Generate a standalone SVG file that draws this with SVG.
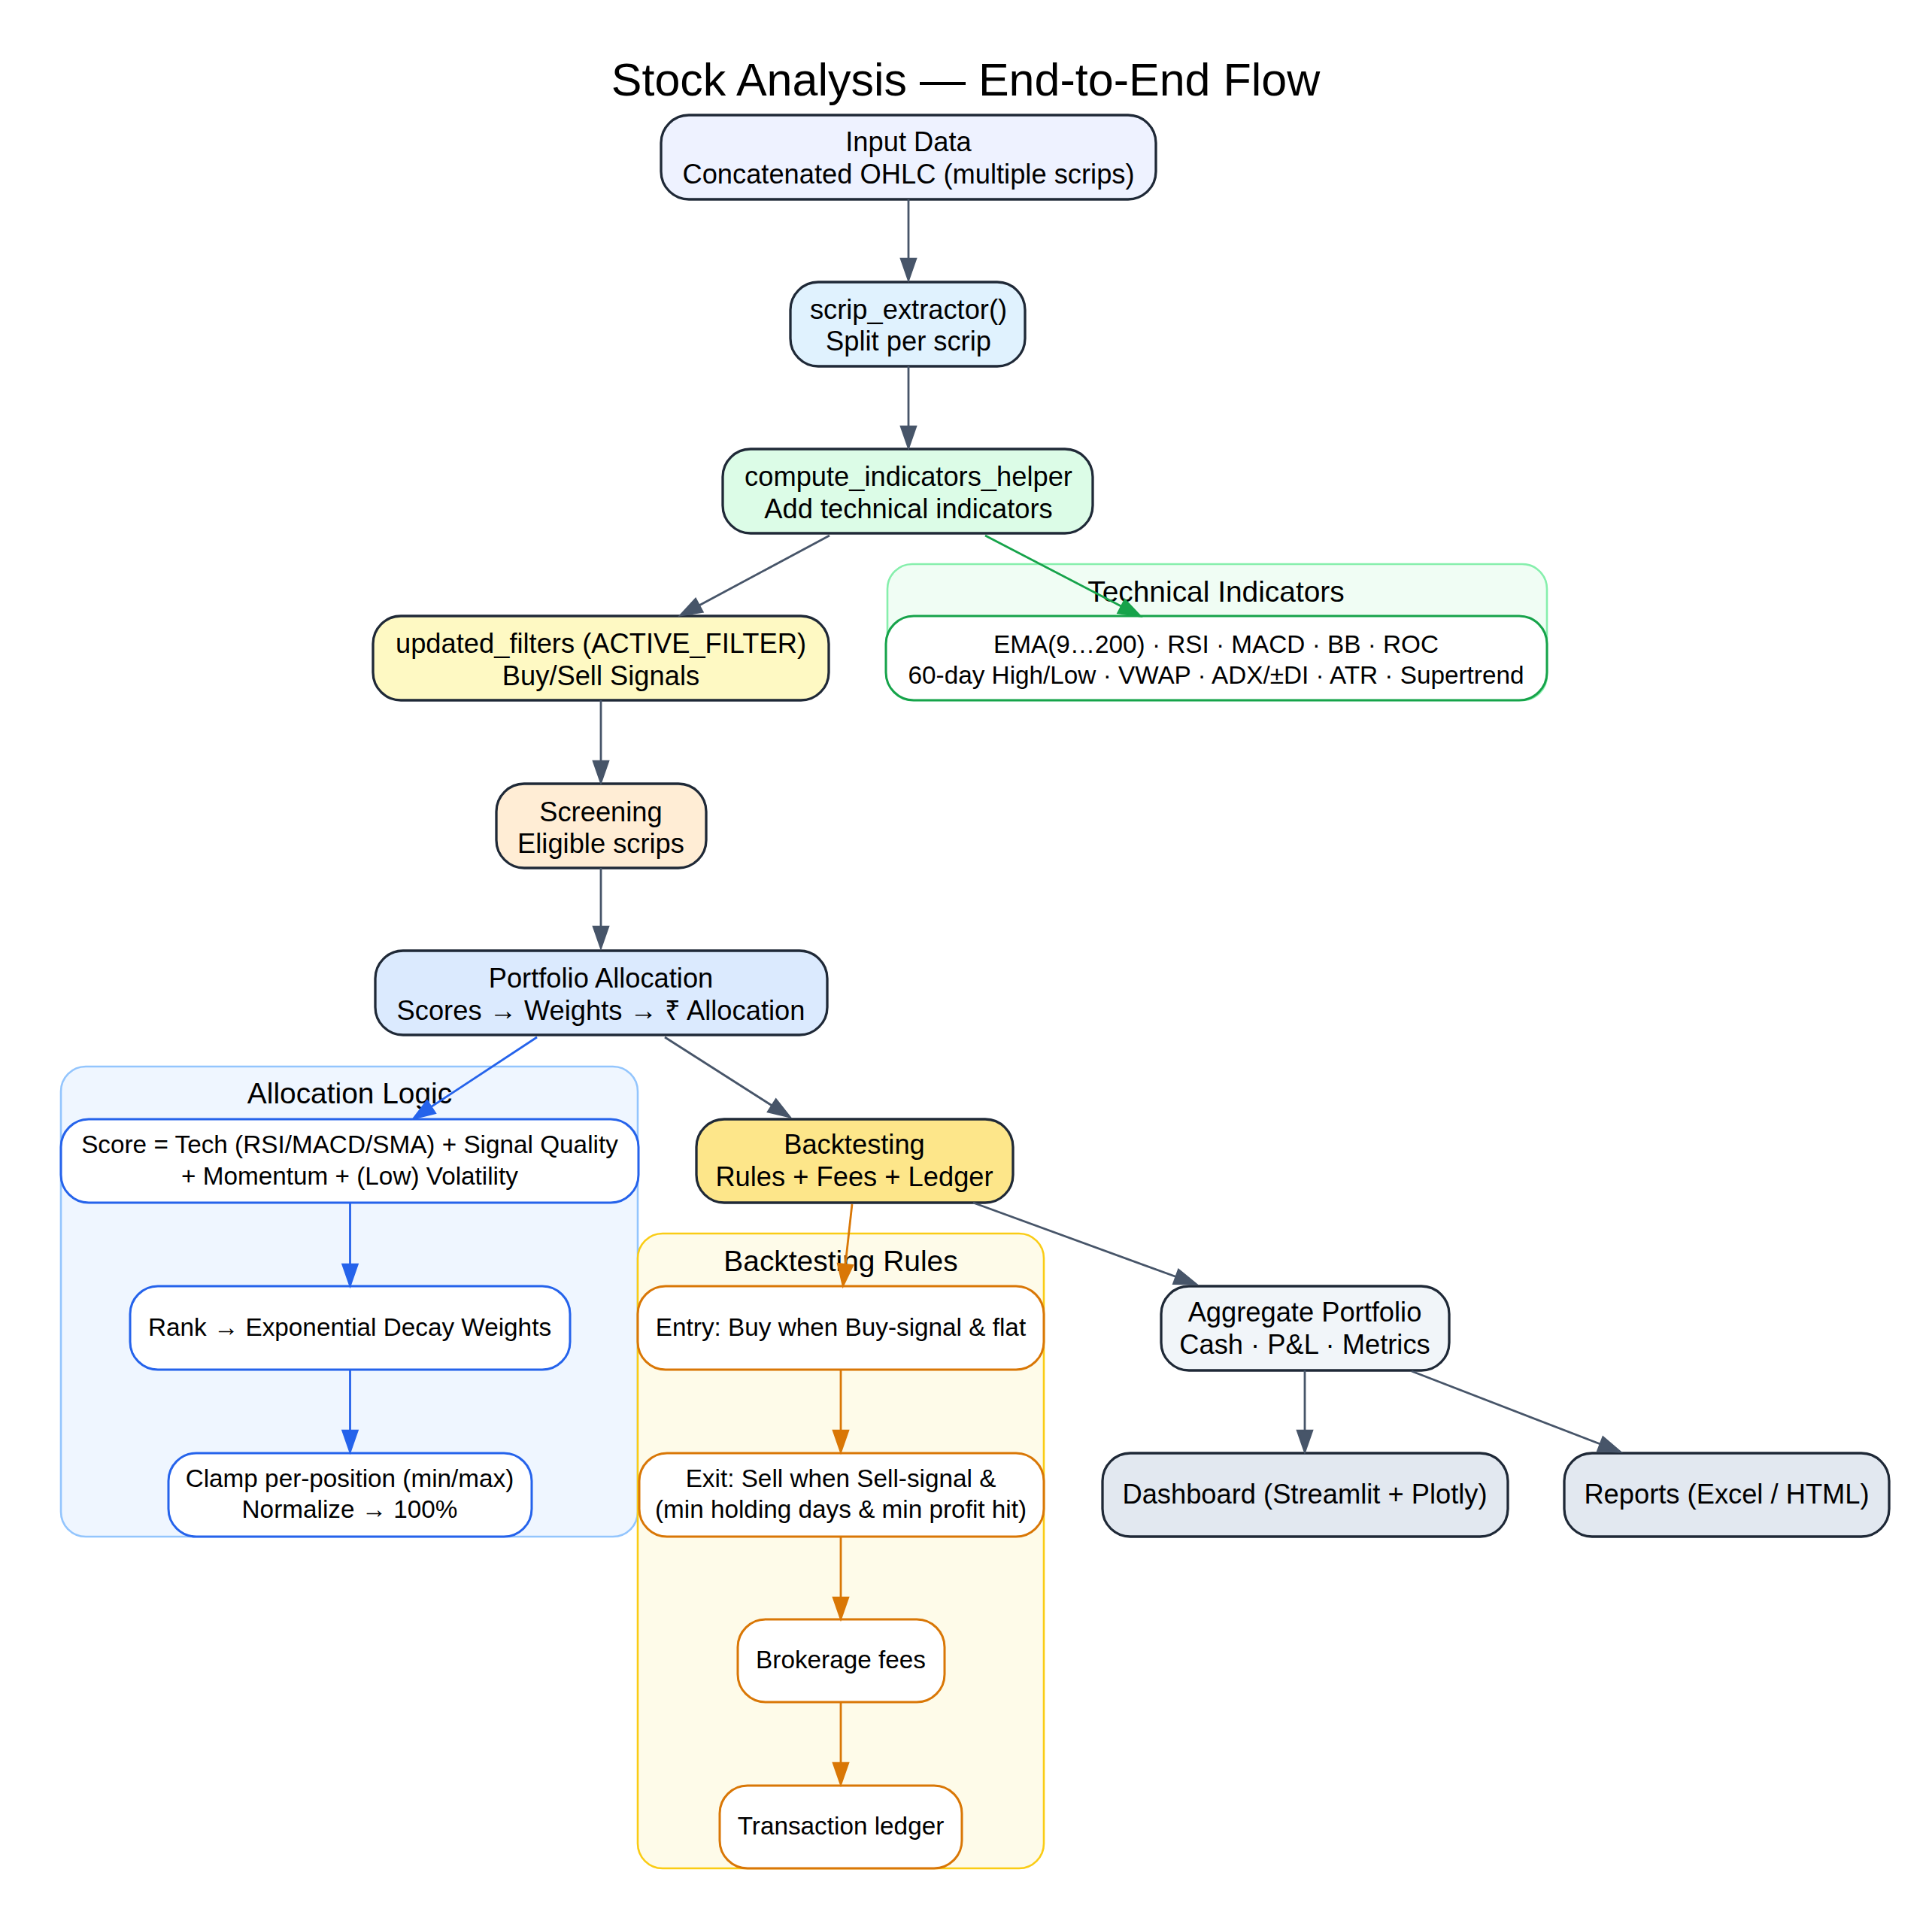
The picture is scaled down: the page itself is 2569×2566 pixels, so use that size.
<svg xmlns="http://www.w3.org/2000/svg" width="2569" height="2566" viewBox="0 0 2569 2566">
<style>
text{font-family:"Liberation Sans",Arial,sans-serif;fill:#000;text-anchor:middle}
.t{font-size:61px}
.n{font-size:36.3px}
.s{font-size:33.3px}
.cl{font-size:38.9px}
.main{stroke:#1f2937;stroke-width:3.3}
.e{fill:none;stroke-width:2.8}
.eg{stroke:#475569}.ah-g{fill:#475569;stroke:#475569}
.eb{stroke:#2563eb}.ah-b{fill:#2563eb;stroke:#2563eb}
.egr{stroke:#16a34a}.ah-gr{fill:#16a34a;stroke:#16a34a}
.eo{stroke:#d97706}.ah-o{fill:#d97706;stroke:#d97706}
polygon{stroke-width:2.8;stroke-linejoin:miter}
</style>
<rect width="2569" height="2566" fill="#ffffff"/>
<text class="t" x="1284" y="127">Stock Analysis — End-to-End Flow</text>

<g id="cluster_tech">
<rect x="1180" y="750" width="877" height="181" rx="33" fill="#f0fdf4" stroke="#86efac" stroke-width="2.6"/>
<text class="cl" x="1617" y="800">Technical Indicators</text>
</g>
<g id="cluster_alloc">
<rect x="81" y="1418" width="767" height="625" rx="33" fill="#eff6ff" stroke="#93c5fd" stroke-width="2.6"/>
<text class="cl" x="465" y="1467">Allocation Logic</text>
</g>
<g id="cluster_bt">
<rect x="848" y="1640" width="540" height="844" rx="33" fill="#fefbe9" stroke="#facc15" stroke-width="2.6"/>
<text class="cl" x="1118" y="1690">Backtesting Rules</text>
</g>

<g id="input">
<rect class="main" x="879" y="153" width="658" height="112" rx="37" fill="#eef2ff"/>
<text class="n" x="1208" y="201">Input Data</text>
<text class="n" x="1208" y="244">Concatenated OHLC (multiple scrips)</text>
</g>
<g id="scrip_extractor">
<rect class="main" x="1051" y="375" width="312" height="112" rx="37" fill="#e0f2fe"/>
<text class="n" x="1208" y="424">scrip_extractor()</text>
<text class="n" x="1208" y="466">Split per scrip</text>
</g>
<g id="compute">
<rect class="main" x="961" y="597" width="492" height="112" rx="37" fill="#dcfce7"/>
<text class="n" x="1208" y="646">compute_indicators_helper</text>
<text class="n" x="1208" y="689">Add technical indicators</text>
</g>
<g id="updated_filters">
<rect class="main" x="496" y="819" width="606" height="112" rx="37" fill="#fef9c3"/>
<text class="n" x="799" y="868">updated_filters (ACTIVE_FILTER)</text>
<text class="n" x="799" y="911">Buy/Sell Signals</text>
</g>
<g id="screening">
<rect class="main" x="660" y="1042" width="279" height="112" rx="37" fill="#ffedd5"/>
<text class="n" x="799" y="1092">Screening</text>
<text class="n" x="799" y="1134">Eligible scrips</text>
</g>
<g id="portfolio">
<rect class="main" x="499" y="1264" width="601" height="112" rx="37" fill="#dbeafe"/>
<text class="n" x="799" y="1313">Portfolio Allocation</text>
<text class="n" x="799" y="1356">Scores → Weights → ₹ Allocation</text>
</g>
<g id="tech_node">
<rect x="1178" y="819" width="879" height="112" rx="37" fill="#ffffff" stroke="#16a34a" stroke-width="3"/>
<text class="s" x="1617" y="868">EMA(9…200) · RSI · MACD · BB · ROC</text>
<text class="s" x="1617" y="909">60-day High/Low · VWAP · ADX/±DI · ATR · Supertrend</text>
</g>
<g id="score">
<rect x="81" y="1488" width="768" height="111" rx="37" fill="#ffffff" stroke="#2563eb" stroke-width="3"/>
<text class="s" x="465" y="1533">Score = Tech (RSI/MACD/SMA) + Signal Quality</text>
<text class="s" x="465" y="1575">+ Momentum + (Low) Volatility</text>
</g>
<g id="rank">
<rect x="173" y="1710" width="585" height="111" rx="37" fill="#ffffff" stroke="#2563eb" stroke-width="3"/>
<text class="s" x="465" y="1776">Rank → Exponential Decay Weights</text>
</g>
<g id="clamp">
<rect x="224" y="1932" width="483" height="111" rx="37" fill="#ffffff" stroke="#2563eb" stroke-width="3"/>
<text class="s" x="465" y="1977">Clamp per-position (min/max)</text>
<text class="s" x="465" y="2018">Normalize → 100%</text>
</g>
<g id="backtesting">
<rect class="main" x="926" y="1488" width="421" height="111" rx="37" fill="#fde68a"/>
<text class="n" x="1136" y="1534">Backtesting</text>
<text class="n" x="1136" y="1577">Rules + Fees + Ledger</text>
</g>
<g id="entry">
<rect x="848" y="1710" width="540" height="111" rx="37" fill="#ffffff" stroke="#d97706" stroke-width="3"/>
<text class="s" x="1118" y="1776">Entry: Buy when Buy-signal &amp; flat</text>
</g>
<g id="exit">
<rect x="850" y="1932" width="538" height="111" rx="37" fill="#ffffff" stroke="#d97706" stroke-width="3"/>
<text class="s" x="1118" y="1977">Exit: Sell when Sell-signal &amp;</text>
<text class="s" x="1118" y="2018">(min holding days &amp; min profit hit)</text>
</g>
<g id="brokerage">
<rect x="981" y="2153" width="275" height="110" rx="37" fill="#ffffff" stroke="#d97706" stroke-width="3"/>
<text class="s" x="1118" y="2218">Brokerage fees</text>
</g>
<g id="ledger">
<rect x="957" y="2374" width="322" height="110" rx="37" fill="#ffffff" stroke="#d97706" stroke-width="3"/>
<text class="s" x="1118" y="2439">Transaction ledger</text>
</g>
<g id="aggregate">
<rect class="main" x="1544" y="1710" width="383" height="112" rx="37" fill="#f1f5f9"/>
<text class="n" x="1735" y="1757">Aggregate Portfolio</text>
<text class="n" x="1735" y="1800">Cash · P&amp;L · Metrics</text>
</g>
<g id="dashboard">
<rect class="main" x="1466" y="1932" width="539" height="111" rx="37" fill="#e2e8f0"/>
<text class="n" x="1735" y="1999">Dashboard (Streamlit + Plotly)</text>
</g>
<g id="reports">
<rect class="main" x="2080" y="1932" width="432" height="111" rx="37" fill="#e2e8f0"/>
<text class="n" x="2296" y="1999">Reports (Excel / HTML)</text>
</g>

<g id="connectors">
<line class="e eg" x1="1208" y1="265" x2="1208" y2="344"/>
<polygon class="ah-g" points="1208,372 1198.3,344.2 1217.7,344.2"/>
<line class="e eg" x1="1208" y1="487" x2="1208" y2="567"/>
<polygon class="ah-g" points="1208,595 1198.3,567.2 1217.7,567.2"/>
<line class="e eg" x1="1103" y1="712" x2="929.5" y2="804.9"/>
<polygon class="ah-g" points="905,818 924.9,796.3 934.1,813.4"/>
<line class="e egr" x1="1310" y1="712" x2="1491.3" y2="806.2"/>
<polygon class="ah-gr" points="1516,819 1486.8,814.8 1495.8,797.6"/>
<line class="e eg" x1="799" y1="931" x2="799" y2="1012"/>
<polygon class="ah-g" points="799,1040 789.3,1012.2 808.7,1012.2"/>
<line class="e eg" x1="799" y1="1154" x2="799" y2="1232"/>
<polygon class="ah-g" points="799,1260 789.3,1232.2 808.7,1232.2"/>
<line class="e eb" x1="714" y1="1379" x2="573.2" y2="1471.7"/>
<polygon class="ah-b" points="550,1487 567.9,1463.6 578.5,1479.8"/>
<line class="e eg" x1="884" y1="1379" x2="1026.6" y2="1470"/>
<polygon class="ah-g" points="1050,1485 1021.4,1478.2 1031.8,1461.9"/>
<line class="e eb" x1="465.5" y1="1599" x2="465.5" y2="1681"/>
<polygon class="ah-b" points="465.5,1709 455.8,1681.2 475.2,1681.2"/>
<line class="e eb" x1="465.5" y1="1821" x2="465.5" y2="1902"/>
<polygon class="ah-b" points="465.5,1930 455.8,1902.2 475.2,1902.2"/>
<line class="e eo" x1="1133" y1="1601" x2="1124.1" y2="1681.4"/>
<polygon class="ah-o" points="1121,1709 1114.4,1680.3 1133.7,1682.4"/>
<line class="e eo" x1="1118" y1="1821" x2="1118" y2="1902"/>
<polygon class="ah-o" points="1118,1930 1108.3,1902.2 1127.7,1902.2"/>
<line class="e eo" x1="1118" y1="2043" x2="1118" y2="2124"/>
<polygon class="ah-o" points="1118,2152 1108.3,2124.2 1127.7,2124.2"/>
<line class="e eo" x1="1118" y1="2263" x2="1118" y2="2344"/>
<polygon class="ah-o" points="1118,2372 1108.3,2344.2 1127.7,2344.2"/>
<line class="e eg" x1="1294" y1="1599" x2="1563.9" y2="1697.5"/>
<polygon class="ah-g" points="1590,1707 1560.6,1706.6 1567.2,1688.4"/>
<line class="e eg" x1="1735" y1="1822" x2="1735" y2="1902"/>
<polygon class="ah-g" points="1735,1930 1725.3,1902.2 1744.7,1902.2"/>
<line class="e eg" x1="1877" y1="1823" x2="2128.1" y2="1920"/>
<polygon class="ah-g" points="2154,1930 2124.6,1929 2131.6,1910.9"/>
</g>
</svg>
